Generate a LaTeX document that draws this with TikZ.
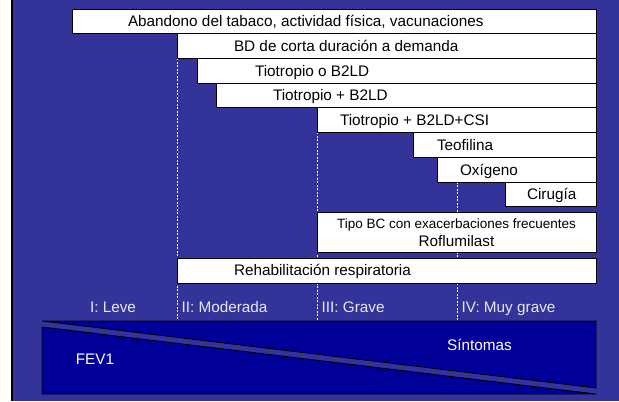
\documentclass[tikz,border=0pt]{standalone}
\usepackage{fontspec}
\setmainfont{Liberation Sans}
\usetikzlibrary{positioning, backgrounds}

\definecolor{fondo}{RGB}{51,51,153}
\definecolor{azulbanda}{RGB}{0,0,153}
\definecolor{etiq}{RGB}{232,232,242}

\begin{document}
\begin{tikzpicture}[x=1bp, y=-1bp,
		barra/.style = {draw, fill=white, line width=0.8bp, anchor=north west, inner sep=0pt, outer sep=0pt, minimum height=24.7bp},
		texto/.style = {inner sep=0pt, outer sep=0pt, font=\fontsize{15.3bp}{18bp}\selectfont, text height=10.95bp, text depth=0pt},
		fase/.style = {texto, text=etiq},
		guia/.style = {draw=white, line width=0.7bp, dash pattern=on 2bp off 1.5bp},
		tri/.style = {fill=azulbanda, draw=black, line width=0.8bp}
		]
		\useasboundingbox (0,0) rectangle (619,401);
		% Fondo
		\begin{scope}[on background layer]
			\fill[white] (0,0) rectangle (11,401);
			\fill[black] (11,0) rectangle (13.3,401);
			\fill[fondo] (13.3,0) rectangle (619,401);
		\end{scope}
		
		% Barras
		\node[barra, minimum width=524bp] (abandono) at (72,9) {};
		\node[barra, minimum width=419bp] (bd) at (177,33.7) {};
		\node[barra, minimum width=399bp] (tioob) at (197,58.4) {};
		\node[barra, minimum width=380bp] (tiomasb) at (216,83.1) {};
		\node[barra, minimum width=279bp] (tiocsi) at (317,107.8) {};
		\node[barra, minimum width=183bp] (teof) at (413,132.5) {};
		\node[barra, minimum width=159bp] (oxig) at (437,157.2) {};
		\node[barra, minimum width=91bp] (cirug) at (505,181.9) {};
		\node[barra, minimum width=279bp, minimum height=40bp] (tipobc) at (317,212) {};
		\node[barra, minimum width=419bp, minimum height=25bp] (rehab) at (177,258) {};
		
		% Textos
		\node[texto, right=56bp of abandono.west] (tabandono) {Abandono del tabaco, actividad física, vacunaciones};
		\node[texto, right=57bp of bd.west] (tbd) {BD de corta duración a demanda};
		\node[texto, right=58bp of tioob.west] (ttioob) {Tiotropio o B2LD};
		\node[texto, right=57bp of tiomasb.west] (ttiomasb) {Tiotropio + B2LD};
		\node[texto, right=23bp of tiocsi.west] (ttiocsi) {Tiotropio + B2LD+CSI};
		\node[texto, right=24bp of teof.west] (tteof) {Teofilina};
		\node[texto, right=23bp of oxig.west] (toxig) {Oxígeno};
		\node[texto, right=22bp of cirug.west] (tcirug) {Cirugía};
		\node[texto, font=\fontsize{13.5bp}{16bp}\selectfont, text height=9.67bp, below=7bp of tipobc.north] (ttipo) {Tipo BC con exacerbaciones frecuentes};
		\node[texto, below=7.3bp of ttipo] (trof) {Roflumilast};
		\node[texto, right=57bp of rehab.west] (trehab) {Rehabilitación respiratoria};
		
		% Banda inferior
		\node[minimum width=554bp, minimum height=73bp, anchor=north west, inner sep=0pt, outer sep=0pt] (banda) at (42,321) {};
		\draw[tri] (banda.north west) -- (banda.north east) -- ([yshift=6bp]banda.south east) -- cycle;
		\draw[tri] ([yshift=-6bp]banda.north west) -- (banda.south east) -- (banda.south west) -- cycle;
		\node[texto, text=white] (fev) at (95,359.5) {FEV1};
		\node[texto, text=white] (sint) at (479.5,345.5) {Síntomas};
		
		% Fases
		\node[fase] (leve) at (113,307) {I: Leve};
		\node[fase, anchor=west] (moder) at (181.6,307) {II: Moderada};
		\node[fase, anchor=west] (grave) at (321.6,307) {III: Grave};
		\node[fase, anchor=west] (mgrave) at (461.6,307) {IV: Muy grave};
		
		% Guias
		\begin{scope}[on background layer]
			\draw[guia] (bd.south west) -- (bd.south west |- banda.north);
			\draw[guia] (tiocsi.north west) -- (tiocsi.north west |- banda.north);
			\draw[guia] ([xshift=20bp]oxig.south west) -- ([xshift=20bp]oxig.south west |- banda.north);
		\end{scope}
	\end{tikzpicture}
\end{document}
